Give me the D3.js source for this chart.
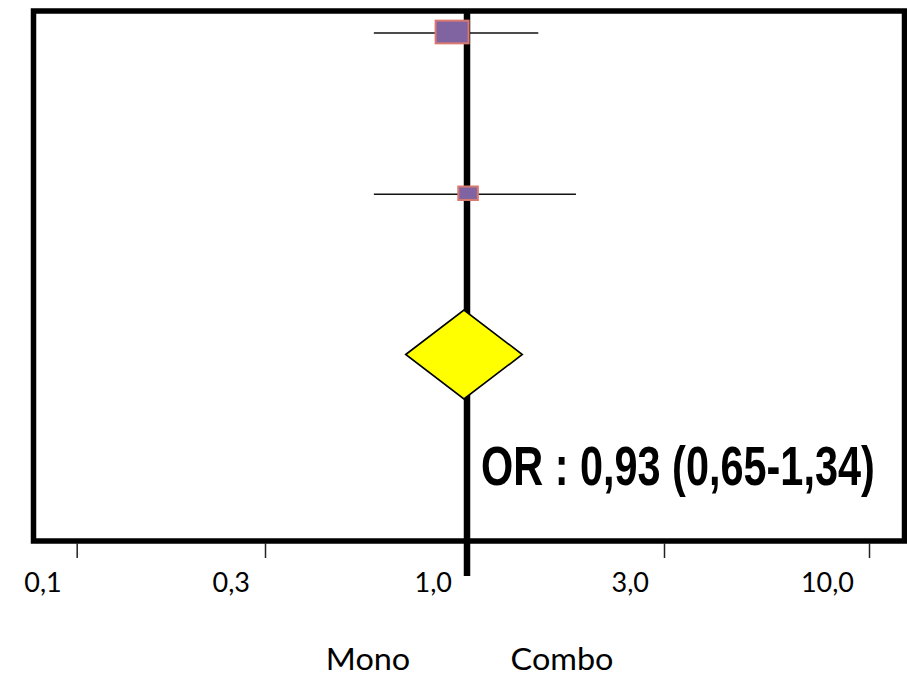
<!DOCTYPE html>
<html>
<head>
<meta charset="utf-8">
<script src="https://cdn.jsdelivr.net/npm/d3@7"></script>
<style>
  body { margin: 0; background: #fff; }
  svg { display: block; }
</style>
</head>
<body>
<div id="forest"></div>
<script>
// values
var studies = ['Study 1', 'Study 2'];
var studyOR = [0.915, 1.006];
var studyLow = [0.574, 0.574];
var studyHigh = [1.488, 1.836];
var studyWeight = [74, 26];

var pooledOR = 0.982;
var pooledLow = 0.694;
var pooledHigh = 1.361;
var pooledLabel = 'OR : 0,93 (0,65-1,34)';

var tickValues = [0.1, 0.3, 1, 3, 10];
var tickLabels = ['0,1', '0,3', '1,0', '3,0', '10,0'];
var sideLabels = ['Mono', 'Combo'];

var width = 907, height = 677;

var svg = d3.select('#forest')
  .append('svg')
  .attr('width', width)
  .attr('height', height);

// log axis, drawn freehand in the original so it is piecewise
var x = d3.scaleLog()
  .domain(tickValues)
  .range([76.7, 265, 467, 664, 869]);

var row = d3.scaleLinear()
  .domain([0, 2])
  .range([32, 354.5]);

var boxW = d3.scaleSqrt().domain([0, 74]).range([0, 33]);
var boxH = d3.scaleSqrt().domain([0, 74]).range([0, 22.7]);

// frame
svg.append('rect')
  .attr('x', 33.5)
  .attr('y', 11)
  .attr('width', 871)
  .attr('height', 530)
  .attr('fill', 'none')
  .attr('stroke', '#000')
  .attr('stroke-width', 5.5);

// ticks
svg.append('g')
  .attr('transform', 'translate(0,543)')
  .call(d3.axisBottom(x).tickValues(tickValues).tickSize(15).tickFormat(''))
  .call(function(g) {
    g.select('.domain').remove();
    g.selectAll('.tick line').attr('stroke', '#222').attr('stroke-width', 1.5);
  });

svg.append('g')
  .selectAll('text')
  .data(tickValues)
  .enter()
  .append('text')
  .attr('x', function(d) { return x(d) - 15; })
  .attr('y', 592)
  .attr('text-anchor', 'end')
  .style('font-family', 'Lato, sans-serif')
  .style('font-size', '27px')
  .attr('fill', '#000')
  .text(function(d, i) { return tickLabels[i]; });

// line of no effect
svg.append('line')
  .attr('x1', x(1)).attr('x2', x(1))
  .attr('y1', 11).attr('y2', 576)
  .attr('stroke', '#000')
  .attr('stroke-width', 6.5);

// confidence intervals
svg.selectAll('.ci')
  .data(studies)
  .enter()
  .append('line')
  .attr('class', 'ci')
  .attr('x1', function(d, i) { return x(studyLow[i]); })
  .attr('x2', function(d, i) { return x(studyHigh[i]); })
  .attr('y1', function(d, i) { return row(i) + 1; })
  .attr('y2', function(d, i) { return row(i) + 1; })
  .attr('stroke', '#111')
  .attr('stroke-width', 1.6);

// study boxes
svg.selectAll('.box')
  .data(studies)
  .enter()
  .append('rect')
  .attr('class', 'box')
  .attr('x', function(d, i) { return x(studyOR[i]) - boxW(studyWeight[i]) / 2; })
  .attr('y', function(d, i) { return row(i) - boxH(studyWeight[i]) / 2; })
  .attr('width', function(d, i) { return boxW(studyWeight[i]); })
  .attr('height', function(d, i) { return boxH(studyWeight[i]); })
  .attr('fill', '#8064A2')
  .attr('stroke', '#D9786F')
  .attr('stroke-width', 2);

// pooled diamond
var py = row(2);
var diamond = [
  [x(pooledLow), py],
  [x(pooledOR), py - 44.5],
  [x(pooledHigh), py],
  [x(pooledOR), py + 44.5]
];
svg.append('path')
  .attr('d', d3.line()(diamond) + 'Z')
  .attr('fill', '#FFFF00')
  .attr('stroke', '#000')
  .attr('stroke-width', 1.6);

// pooled estimate, squeezed sideways like the original
svg.append('text')
  .attr('transform', 'translate(481,485) scale(0.74,1)')
  .style('font-family', '"Liberation Sans", Arial, sans-serif')
  .style('font-weight', 'bold')
  .style('font-size', '56px')
  .text(pooledLabel);

// direction labels
svg.selectAll('.side')
  .data(sideLabels)
  .enter()
  .append('text')
  .attr('class', 'side')
  .attr('transform', function(d, i) {
    return 'translate(' + (i == 0 ? 368 : 562) + ',670) scale(1.08,1)';
  })
  .attr('text-anchor', 'middle')
  .style('font-family', 'Lato, sans-serif')
  .style('font-size', '30px')
  .text(function(d) { return d; });
</script>
</body>
</html>
